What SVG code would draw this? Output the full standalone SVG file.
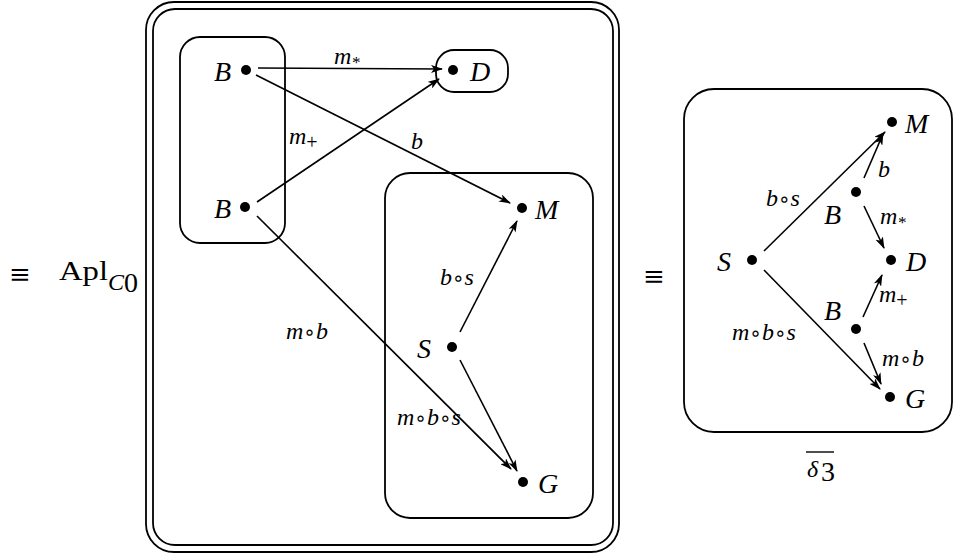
<svg xmlns="http://www.w3.org/2000/svg" width="954" height="554" viewBox="0 0 954 554">
<style>
.box{fill:none;stroke:#000;stroke-width:1.8}
.dot{fill:#000}
.lbl{font-family:"Liberation Serif",serif;font-style:italic;font-size:28px;fill:#000}
.el{font-family:"Liberation Serif",serif;font-style:italic;font-size:24px;fill:#000}
.o{font-family:"DejaVu Sans",sans-serif;font-style:normal;font-size:20px}
.rm{font-family:"Liberation Serif",serif;font-size:28px;fill:#000}
.eq{font-family:"DejaVu Serif",serif;font-size:26px;fill:#000}
.edge{stroke:#000;stroke-width:1.6;fill:none;marker-end:url(#ah)}
</style>
<defs>
<marker id="ah" viewBox="0 0 12 8" refX="11" refY="4" markerWidth="12" markerHeight="8" markerUnits="userSpaceOnUse" orient="auto">
<path d="M0,0 L12,4 L0,8 L3,4 Z" fill="#000"/>
</marker>
</defs>
<rect width="954" height="554" fill="#fff"/>

<g id="left-label">
<text class="eq" x="9" y="283">≡</text>
<text class="rm" x="59" y="280" textLength="49" lengthAdjust="spacingAndGlyphs">Apl</text>
<text class="el" x="108" y="290" font-size="18">C</text>
<text class="rm" x="124" y="292" font-size="13">0</text>
</g>

<g id="outer-box">
<rect class="box" x="146" y="2" width="473" height="550" rx="28"/>
<rect class="box" x="153" y="9" width="460" height="536" rx="22"/>
</g>

<g id="group-B">
<rect class="box" x="180" y="37" width="105" height="206" rx="20"/>
</g>
<g id="group-D">
<rect class="box" x="436" y="50" width="72" height="42" rx="18"/>
</g>
<g id="group-MSG">
<rect class="box" x="385" y="173" width="208" height="345" rx="25"/>
</g>

<g id="edges-left">
<line class="edge" x1="258" y1="68" x2="442" y2="69"/>
<line class="edge" x1="256" y1="75" x2="510" y2="203"/>
<line class="edge" x1="257" y1="202" x2="439" y2="79"/>
<line class="edge" x1="257" y1="216" x2="511" y2="469"/>
<line class="edge" x1="460" y1="332" x2="517" y2="221"/>
<line class="edge" x1="460" y1="360" x2="517" y2="471"/>
<text class="el" x="334" y="64">m<tspan font-size="17" dy="4">*</tspan></text>
<text class="el" x="411" y="149">b</text>
<text class="el" x="289" y="144">m<tspan font-size="20" dy="5" font-style="normal">+</tspan></text>
<text class="el" x="286" y="339">m<tspan class="o">∘</tspan>b</text>
<text class="el" x="440" y="285">b<tspan class="o">∘</tspan>s</text>
<text class="el" x="397" y="425">m<tspan class="o">∘</tspan>b<tspan class="o">∘</tspan>s</text>
</g>

<g id="node-B1"><circle class="dot" cx="246" cy="70" r="5"/><text class="lbl" x="214" y="81">B</text></g>
<g id="node-B2"><circle class="dot" cx="245" cy="207" r="5"/><text class="lbl" x="214" y="218">B</text></g>
<g id="node-D"><circle class="dot" cx="453" cy="70" r="5"/><text class="lbl" x="470" y="81">D</text></g>
<g id="node-M"><circle class="dot" cx="522" cy="208" r="5"/><text class="lbl" x="535" y="219">M</text></g>
<g id="node-S"><circle class="dot" cx="452" cy="347" r="5"/><text class="lbl" x="417" y="358">S</text></g>
<g id="node-G"><circle class="dot" cx="523" cy="482" r="5"/><text class="lbl" x="538" y="493">G</text></g>

<g id="equiv2"><text class="eq" x="643" y="285">≡</text></g>

<g id="right-box">
<rect class="box" x="684" y="89" width="268" height="343" rx="30"/>
</g>

<g id="edges-right">
<line class="edge" x1="764" y1="251" x2="885" y2="132"/>
<line class="edge" x1="864" y1="178" x2="883" y2="134"/>
<line class="edge" x1="864" y1="206" x2="884" y2="248"/>
<line class="edge" x1="764" y1="270" x2="880" y2="389"/>
<line class="edge" x1="863" y1="317" x2="882" y2="275"/>
<line class="edge" x1="864" y1="343" x2="881" y2="384"/>
<text class="el" x="766" y="206">b<tspan class="o">∘</tspan>s</text>
<text class="el" x="878" y="177">b</text>
<text class="el" x="880" y="224">m<tspan font-size="17" dy="4">*</tspan></text>
<text class="el" x="732" y="340">m<tspan class="o">∘</tspan>b<tspan class="o">∘</tspan>s</text>
<text class="el" x="879" y="302">m<tspan font-size="20" dy="5" font-style="normal">+</tspan></text>
<text class="el" x="882" y="366">m<tspan class="o">∘</tspan>b</text>
</g>

<g id="r-node-M"><circle class="dot" cx="892" cy="122" r="5"/><text class="lbl" x="905" y="133">M</text></g>
<g id="r-node-B1"><circle class="dot" cx="856" cy="192" r="5"/><text class="lbl" x="824" y="224">B</text></g>
<g id="r-node-D"><circle class="dot" cx="891" cy="260" r="5"/><text class="lbl" x="906" y="271">D</text></g>
<g id="r-node-S"><circle class="dot" cx="752" cy="260" r="5"/><text class="lbl" x="717" y="271">S</text></g>
<g id="r-node-B2"><circle class="dot" cx="856" cy="329" r="5"/><text class="lbl" x="824" y="320">B</text></g>
<g id="r-node-G"><circle class="dot" cx="890" cy="397" r="5"/><text class="lbl" x="905" y="408">G</text></g>

<g id="delta3">
<line x1="806" y1="452" x2="834" y2="452" stroke="#000" stroke-width="1.4"/>
<text class="el" x="807" y="477" font-size="26">δ</text>
<text class="rm" x="821" y="481" font-size="17">3</text>
</g>
</svg>
